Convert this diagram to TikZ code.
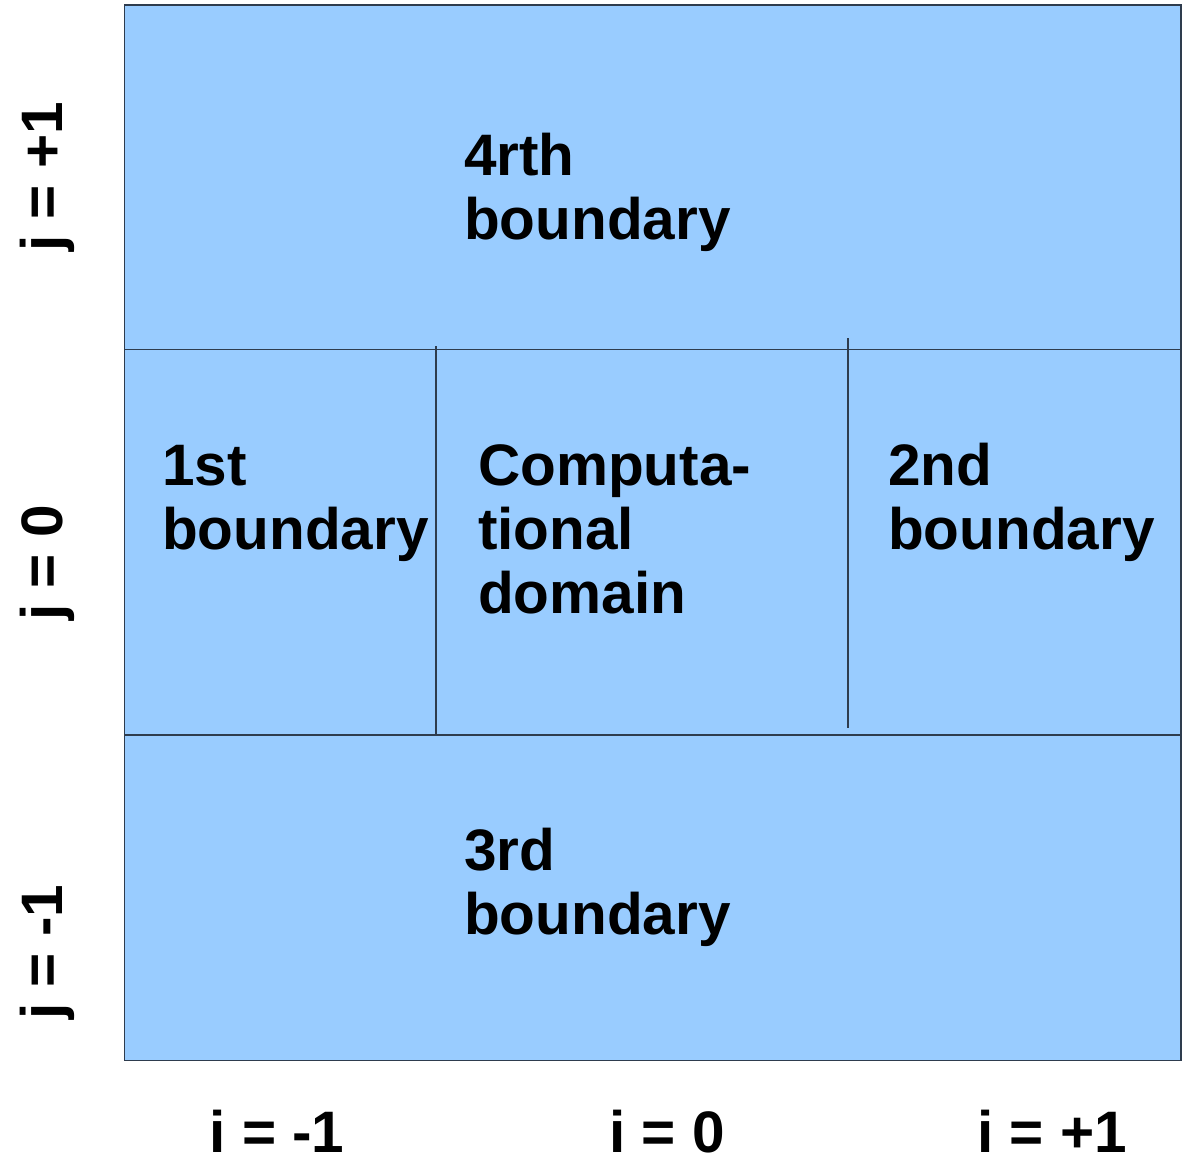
\documentclass[tikz,border=0pt]{standalone}
\usepackage{fontspec}
\setmainfont{Liberation Sans}
\definecolor{cellfill}{HTML}{99CCFF}
\definecolor{gridline}{HTML}{2E3C4E}
\begin{document}
\begin{tikzpicture}[x=1pt,y=-1pt,
  lbl/.style={font=\bfseries\fontsize{58.5}{64}\selectfont, inner sep=0pt, anchor=base west, align=left},
  axis/.style={font=\bfseries\fontsize{58.5}{64}\selectfont, inner sep=0pt, anchor=base},
  grid/.style={draw=gridline, line width=1.3pt}]
  \useasboundingbox (0,0) rectangle (1188,1156);
  % domain
  \draw[fill=cellfill, draw=gridline, line width=1.3pt] (124.5,5) rectangle (1181,1060.5);
  % cell separators
  \coordinate (hl1) at (124.5,349.5); \coordinate (hr1) at (1181,349.5);
  \coordinate (hl2) at (124.5,735); \coordinate (hr2) at (1181,735);
  \coordinate (va) at (436,346); \coordinate (vb) at (436,736);
  \coordinate (vc) at (848,338); \coordinate (vd) at (848,728);
  \draw[grid] (hl1) -- (hr1);
  \draw[grid] (hl2) -- (hr2);
  \draw[grid] (va) -- (vb);
  \draw[grid] (vc) -- (vd);
  % region labels (anchored at the baseline of the last line)
  \node[lbl] (top) at (464,239) {4rth\\boundary};
  \node[lbl] (left) at (162,549) {1st\\boundary};
  \node[lbl] (mid) at (478,613) {Computa-\\tional\\domain};
  \node[lbl] (right) at (888,549) {2nd\\boundary};
  \node[lbl] (bottom) at (464,934) {3rd\\boundary};
  % index labels
  \node[axis] (im) at (277,1152) {i = -1};
  \node[axis] (i0) at (667,1152) {i = 0};
  \node[axis] (ip) at (1052,1152) {i = +1};
  \node[axis, rotate=90] (jp) at (62,177) {j = +1};
  \node[axis, rotate=90] (j0) at (62,563) {j = 0};
  \node[axis, rotate=90] (jm) at (62,952) {j = -1};
\end{tikzpicture}
\end{document}
